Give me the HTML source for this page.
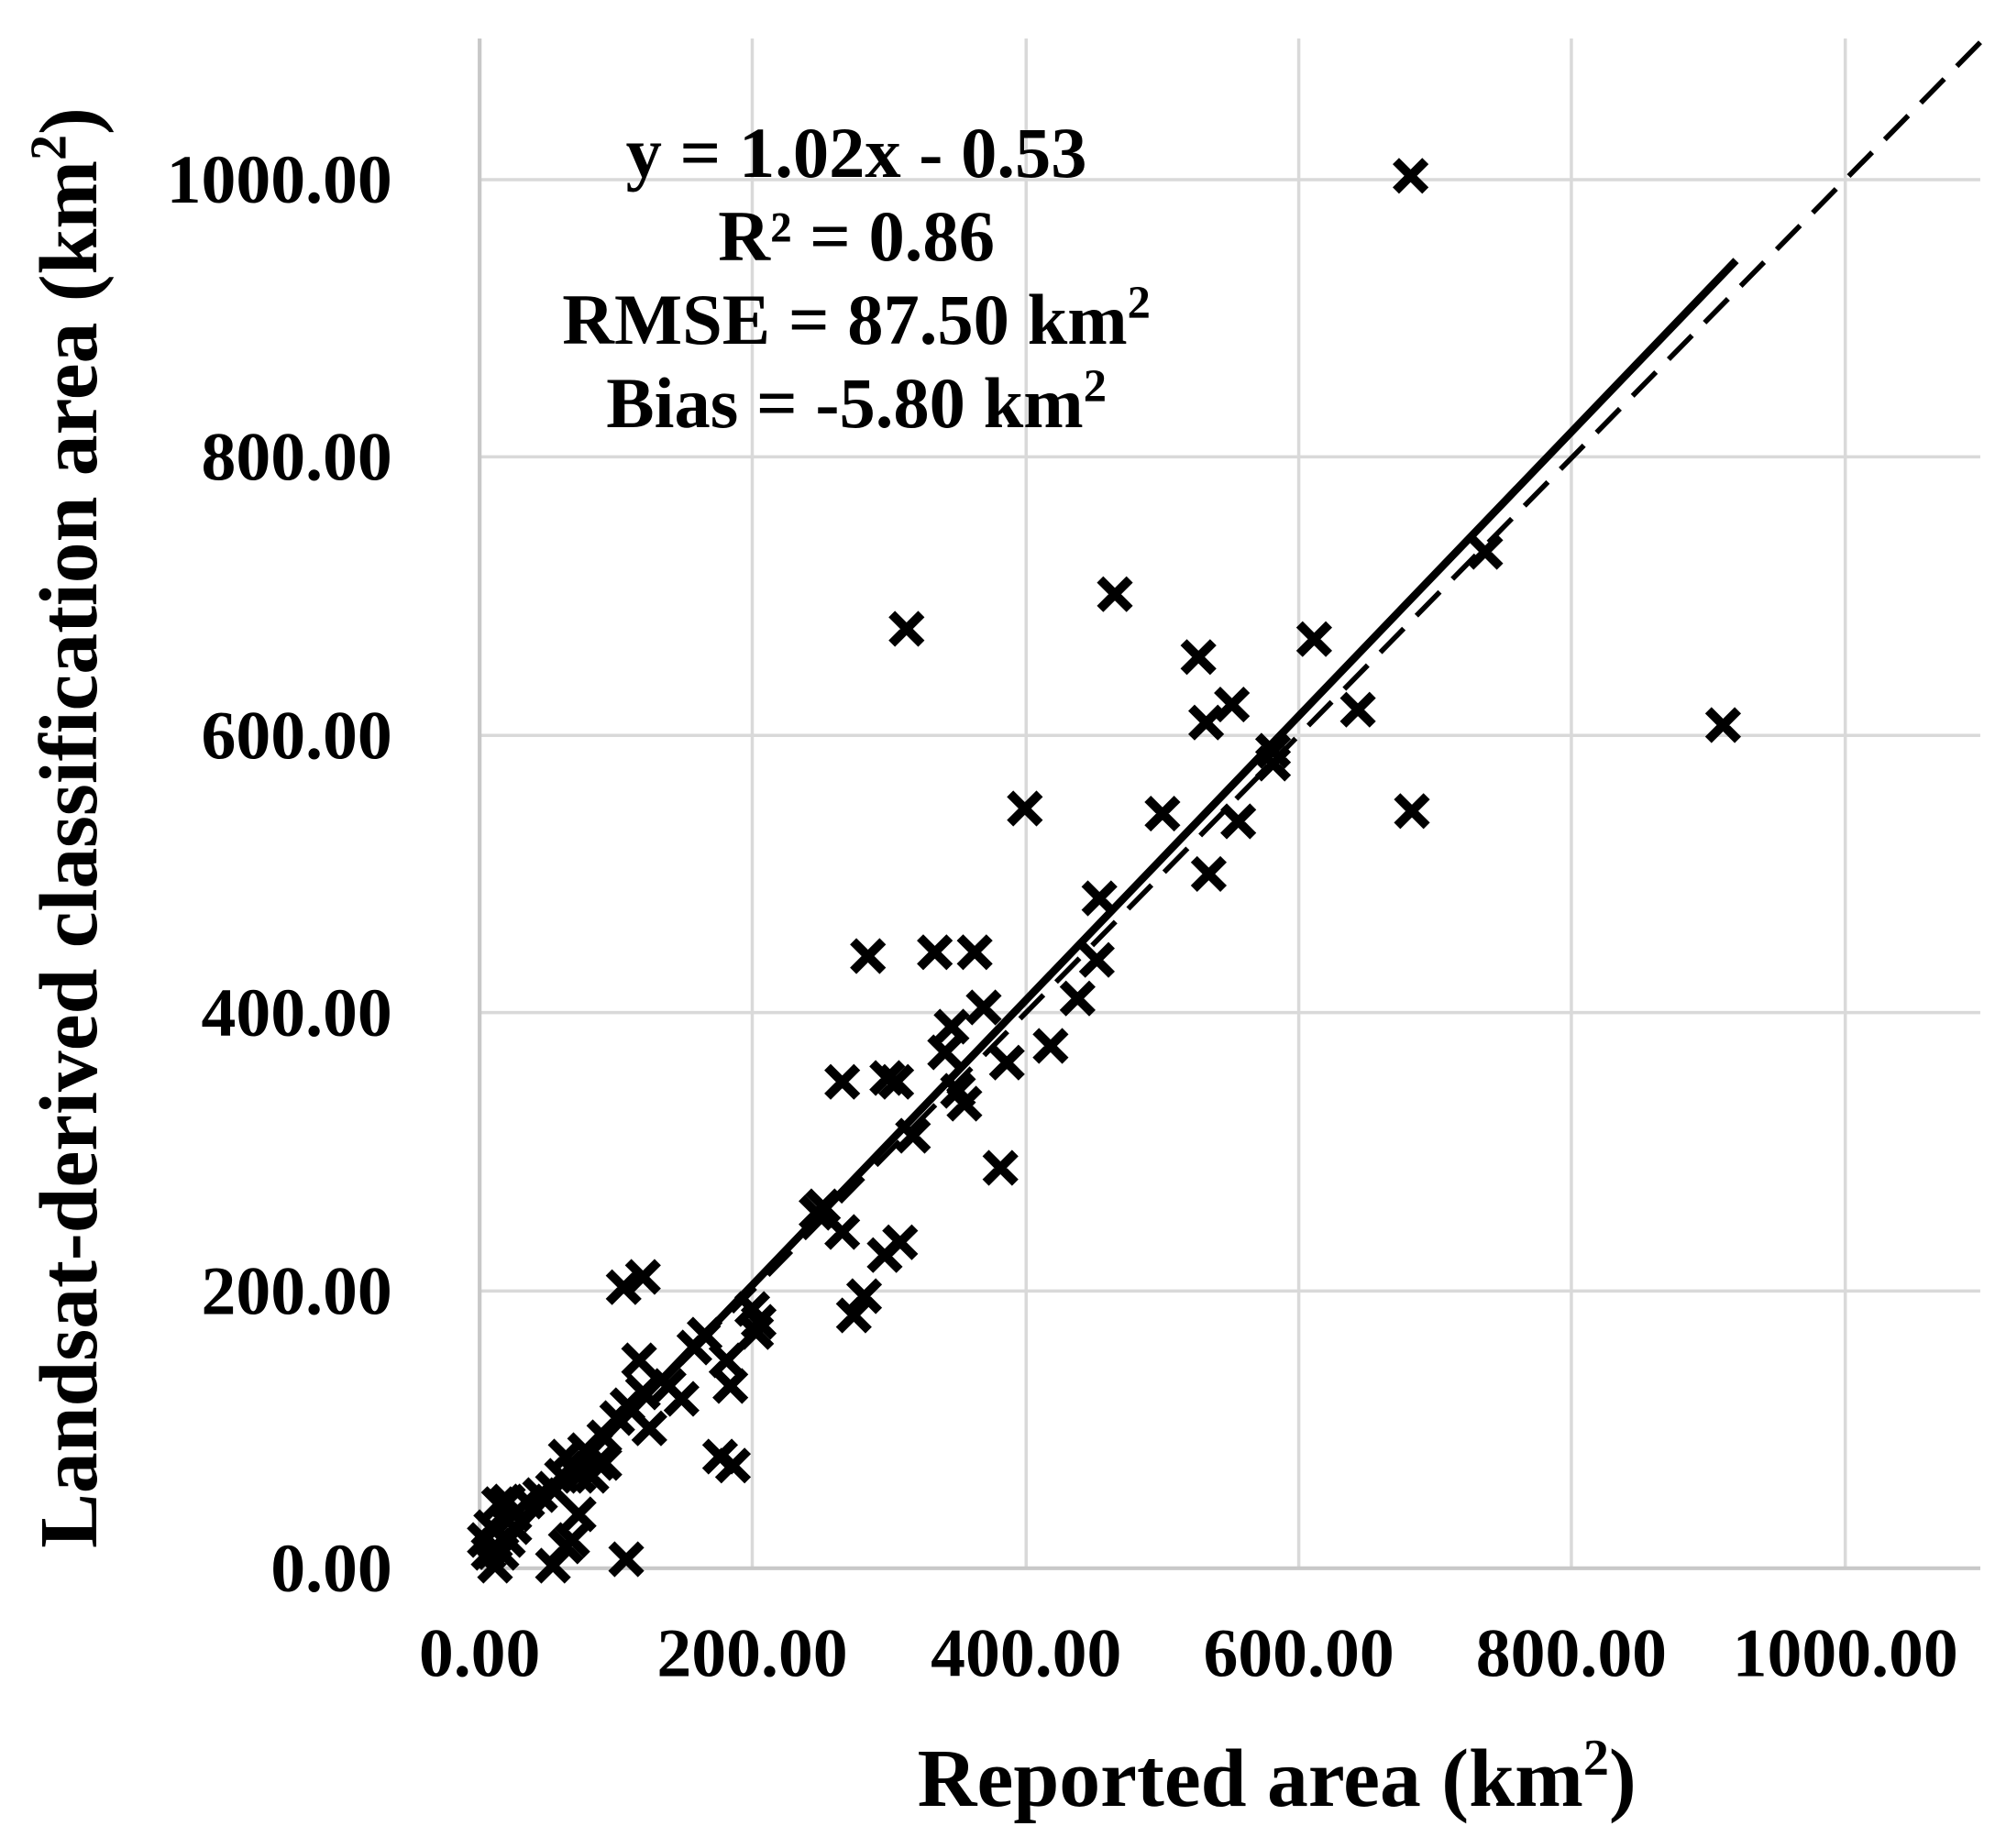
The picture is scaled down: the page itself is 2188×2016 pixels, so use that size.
<!DOCTYPE html>
<html><head><meta charset="utf-8"><style>html,body{margin:0;padding:0;background:#fff}svg{display:block}</style></head>
<body>
<svg width="2188" height="2016" viewBox="0 0 1560 1440" preserveAspectRatio="none" xmlns="http://www.w3.org/2000/svg">
<rect width="1560" height="1440" fill="#fff"/>
<g stroke="#d9d9d9" stroke-width="2.5">
<line x1="585" y1="30" x2="585" y2="1222"/><line x1="798" y1="30" x2="798" y2="1222"/><line x1="1010" y1="30" x2="1010" y2="1222"/><line x1="1222" y1="30" x2="1222" y2="1222"/><line x1="1435" y1="30" x2="1435" y2="1222"/>
<line x1="373" y1="140" x2="1540" y2="140"/><line x1="373" y1="356" x2="1540" y2="356"/><line x1="373" y1="573" x2="1540" y2="573"/><line x1="373" y1="789" x2="1540" y2="789"/><line x1="373" y1="1006" x2="1540" y2="1006"/>
</g>
<g stroke="#c8c8c8" stroke-width="3"><line x1="373" y1="30" x2="373" y2="1222"/><line x1="373" y1="1222" x2="1540" y2="1222"/></g>
<line x1="373" y1="1222" x2="1540" y2="33" stroke="#000" stroke-width="4" stroke-dasharray="26,14"/>
<line x1="389" y1="1206" x2="1350" y2="203" stroke="#000" stroke-width="6"/>
<g stroke="#000" stroke-width="7" id="pts"></g>
<g font-family="Liberation Serif, serif" font-weight="bold" font-size="54" fill="#000">
<g text-anchor="end">
<text x="305" y="158">1000.00</text><text x="305" y="374">800.00</text><text x="305" y="591">600.00</text><text x="305" y="807">400.00</text><text x="305" y="1024">200.00</text><text x="305" y="1240">0.00</text>
</g>
<g text-anchor="middle">
<text x="373" y="1306">0.00</text><text x="585" y="1306">200.00</text><text x="798" y="1306">400.00</text><text x="1010" y="1306">600.00</text><text x="1222" y="1306">800.00</text><text x="1435" y="1306">1000.00</text>
</g>
<g text-anchor="middle" font-size="56">
<text x="666" y="138">y = 1.02x - 0.53</text>
<text x="666" y="203">R² = 0.86</text>
<text x="666" y="268">RMSE = 87.50 km<tspan font-size="36" dy="-20">2</tspan></text>
<text x="666" y="333">Bias = -5.80 km<tspan font-size="36" dy="-20">2</tspan></text>
</g>
<text x="993" y="1407" text-anchor="middle" font-size="64">Reported area (km<tspan font-size="40" dy="-24">2</tspan><tspan dy="24">)</tspan></text>
<text transform="translate(75,645) rotate(-90)" text-anchor="middle" font-size="64">Landsat-derived classification area (km<tspan font-size="40" dy="-24">2</tspan><tspan dy="24">)</tspan></text>
</g>
<script>
var P=[[1097,137],[1340,565],[1098,632],[1155,430],[1022,498],[1056,553],[932,512],[958,549],[938,563],[963,640],[940,681],[990,585],[990,595],[904,634],[867,463],[855,700],[853,748],[838,778],[817,815],[797,630],[783,828],[778,910],[765,785],[758,742],[727,742],[740,800],[735,820],[745,850],[750,860],[705,490],[690,840],[697,843],[710,885],[675,745],[655,843],[700,968],[688,978],[672,1010],[664,1025],[640,940],[655,960],[635,945],[590,1030],[588,1038],[585,1020],[568,1080],[565,1060],[560,1135],[570,1142],[548,1040],[540,1050],[500,995],[485,1003],[497,1060],[500,1085],[505,1113],[488,1095],[480,1105],[520,1080],[487,1215],[470,1140],[455,1130],[450,1150],[437,1150],[440,1135],[445,1200],[430,1220],[440,1205],[420,1165],[410,1170],[400,1180],[395,1200],[390,1210],[382,1190],[380,1210],[385,1220],[388,1172],[395,1170],[400,1190],[377,1200],[430,1160],[460,1150],[470,1120],[450,1180],[530,1090],[465,1140]];
var g=document.getElementById('pts'),s='';
P.forEach(function(p){var x=p[0],y=p[1],r=11.5;s+='M'+(x-r)+','+(y-r)+'L'+(x+r)+','+(y+r)+'M'+(x-r)+','+(y+r)+'L'+(x+r)+','+(y-r);});
var e=document.createElementNS('http://www.w3.org/2000/svg','path');e.setAttribute('d',s);e.setAttribute('fill','none');g.appendChild(e);
</script>
</svg>
</body></html>
